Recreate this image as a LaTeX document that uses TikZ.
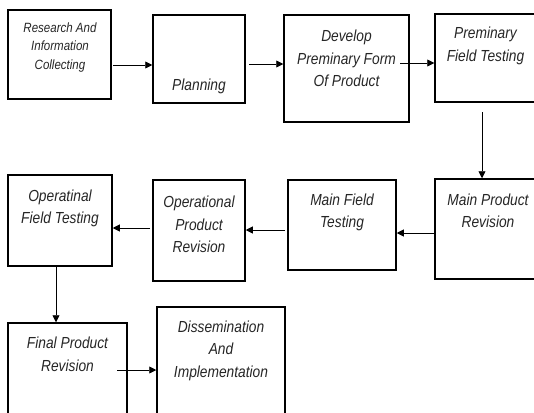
\documentclass[tikz,border=0pt]{standalone}
\usepackage{fontspec}
\newfontfamily\boxfont{Liberation Sans}[FakeStretch=0.86]
\usetikzlibrary{arrows.meta}
\tikzset{
  stagebox/.style={draw=black, line width=1.5pt, fill=none, inner sep=0pt},
  stagetext/.style={font=\boxfont\itshape\fontsize{16}{22.5}\selectfont, align=center, inner sep=0pt, text=black!85},
  smalltext/.style={font=\boxfont\itshape\fontsize{13.4}{18.5}\selectfont, align=center, inner sep=0pt, text=black!85},
  arr/.style={draw=black, line width=0.8pt, -{Triangle[length=7pt,width=7pt]}},
}
\begin{document}
\begin{tikzpicture}[x=1pt,y=-1pt]
\useasboundingbox[fill=white] (0,0) rectangle (534,412);
\clip (0,0) rectangle (534,412);
% boxes
\node[stagebox, minimum width=103pt, minimum height=89pt] (b1) at (59.5,54.5) {};
\node[stagebox, minimum width=92pt, minimum height=88pt] (b2) at (199,59) {};
\node[stagebox, minimum width=125pt, minimum height=107pt] (b3) at (346.5,68.5) {};
\node[stagebox, minimum width=103pt, minimum height=88pt] (b4) at (486.5,58) {};
\node[stagebox, minimum width=106pt, minimum height=100pt] (b5) at (488,229) {};
\node[stagebox, minimum width=108pt, minimum height=90pt] (b6) at (342,225) {};
\node[stagebox, minimum width=92pt, minimum height=101pt] (b7) at (199,230.5) {};
\node[stagebox, minimum width=104pt, minimum height=91pt] (b8) at (60,220.5) {};
\node[stagebox, minimum width=119pt, minimum height=100pt] (b9) at (67.5,373) {};
\node[stagebox, minimum width=128pt, minimum height=116pt] (b10) at (221,365) {};
% texts
\node[smalltext] (t1) at (60,47.5) {Research And\\Information\\Collecting};
\node[stagetext] (t2) at (199,86) {Planning};
\node[stagetext] (t3) at (346.5,58.5) {Develop\\Preminary Form\\Of Product};
\node[stagetext] (t4) at (485.5,46) {Preminary\\Field Testing};
\node[stagetext] (t5) at (488,211) {Main Product\\Revision};
\node[stagetext] (t6) at (342,212.5) {Main Field\\Testing};
\node[stagetext] (t7) at (199,224.5) {Operational\\Product\\Revision};
\node[stagetext] (t8) at (60,208.5) {Operatinal\\Field Testing};
\node[stagetext] (t9) at (67.5,354.5) {Final Product\\Revision};
\node[stagetext] (t10) at (221,350.5) {Dissemination\\And\\Implementation};
% connector start points
\coordinate (s12) at (113,65);
\coordinate (s23) at (249,64);
\coordinate (s34) at (400,63);
\coordinate (s45) at (482,112);
\coordinate (s56) at (435,233);
\coordinate (s67) at (285,230);
\coordinate (s78) at (150,228);
\coordinate (s89) at (56,266);
\coordinate (s910) at (117,370);
% connectors
\draw[arr] (s12) -- (s12 -| b2.west);
\draw[arr] (s23) -- (s23 -| b3.west);
\draw[arr] (s34) -- (s34 -| b4.west);
\draw[arr] (s45) -- (s45 |- b5.north);
\draw[arr] (s56) -- (s56 -| b6.east);
\draw[arr] (s67) -- (s67 -| b7.east);
\draw[arr] (s78) -- (s78 -| b8.east);
\draw[arr] (s89) -- (s89 |- b9.north);
\draw[arr] (s910) -- (s910 -| b10.west);
\end{tikzpicture}
\end{document}
